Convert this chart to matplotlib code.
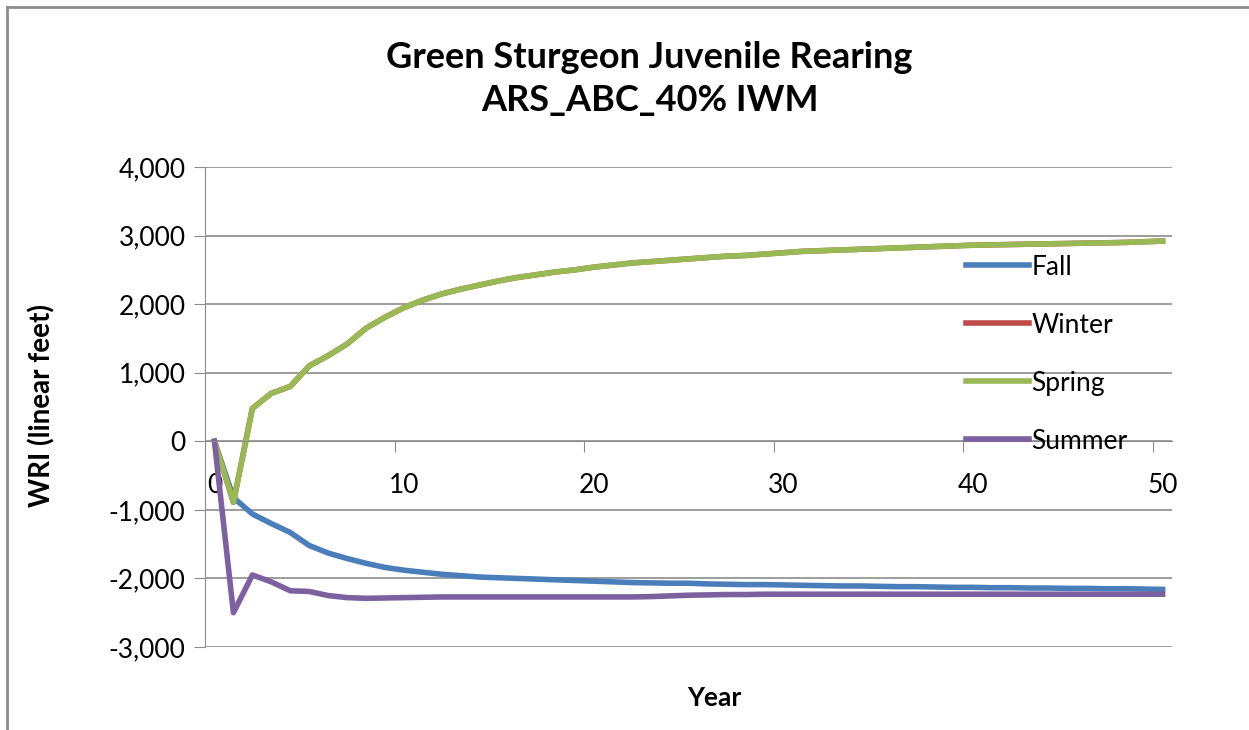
import matplotlib.pyplot as plt
import numpy as np
from matplotlib.lines import Line2D

plt.rcParams['font.family'] = ['Lato', 'DejaVu Sans']

# Data
years = list(range(0, 51))
fall = [0, -820, -1060, -1200, -1330, -1520, -1630, -1710, -1780, -1840,
        -1880, -1910, -1940, -1960, -1980, -1990, -2000, -2010, -2020, -2030,
        -2040, -2050, -2060, -2065, -2070, -2070, -2080, -2085, -2090, -2090,
        -2095, -2100, -2105, -2110, -2110, -2115, -2120, -2120, -2125, -2130,
        -2130, -2135, -2135, -2140, -2140, -2145, -2145, -2150, -2150, -2155,
        -2160]
spring = [0, -890, 480, 700, 800, 1100, 1250, 1420, 1650, 1810,
          1950, 2060, 2150, 2220, 2280, 2340, 2390, 2430, 2470, 2500,
          2540, 2570, 2600, 2620, 2640, 2660, 2680, 2700, 2710, 2730,
          2750, 2770, 2780, 2790, 2800, 2810, 2820, 2830, 2840, 2850,
          2860, 2865, 2870, 2875, 2880, 2885, 2890, 2895, 2900, 2910,
          2920]
winter = list(spring)  # hidden beneath the Spring line
summer = [0, -2500, -1950, -2050, -2180, -2190, -2250, -2280, -2290, -2285,
          -2280, -2275, -2270, -2270, -2270, -2270, -2270, -2270, -2270, -2270,
          -2270, -2270, -2270, -2265, -2255, -2245, -2240, -2235, -2235, -2230,
          -2230, -2230, -2230, -2230, -2230, -2230, -2230, -2230, -2230, -2230,
          -2230, -2230, -2230, -2230, -2230, -2230, -2230, -2230, -2230, -2230,
          -2230]

series = [("Fall", fall, "#4A7EBB"), ("Winter", winter, "#BE4B48"),
          ("Spring", spring, "#98B954"), ("Summer", summer, "#7D60A0")]

fig = plt.figure(figsize=(12.49, 7.30), dpi=100)
ax = fig.add_axes([0.1641, 0.1137, 0.7743, 0.6575])

for name, vals, col in series:
    ax.plot(years, vals, color=col, lw=4, label=name, solid_joinstyle='round')

ax.set_xlim(-0.5, 50.5)
ax.set_ylim(-3000, 4000)
ax.set_yticks(np.arange(-3000, 4001, 1000))
ax.set_yticklabels([f"{v:,}" for v in range(-3000, 4001, 1000)], fontsize=19)
ax.yaxis.grid(True, color='#8c8c8c', lw=1.2)
ax.set_axisbelow(True)

# x axis sits at y = 0, ticks between categories, labels at categories
for s in ['top', 'right']:
    ax.spines[s].set_visible(False)
ax.spines['bottom'].set_position(('data', 0))
ax.spines['bottom'].set_color('#8c8c8c')
ax.spines['left'].set_color('#8c8c8c')
ax.set_xticks(np.arange(9.5, 50, 10))
ax.set_xticks(np.arange(0, 51, 10), minor=True)
ax.set_xticklabels([], minor=False)
ax.set_xticklabels([str(v) for v in range(0, 51, 10)], minor=True, fontsize=19)
ax.tick_params(axis='x', which='major', direction='out', length=8, color='#8c8c8c')
ax.tick_params(axis='x', which='minor', length=0, pad=23)
ax.tick_params(axis='y', direction='out', length=8, color='#8c8c8c', pad=6)

fig.text(0.0336, 0.445, "WRI (linear feet)", rotation=90, ha='center', va='center',
         fontsize=20, fontweight='bold')
fig.text(0.572, 0.044, "Year", ha='center', va='center', fontsize=19, fontweight='bold')
fig.text(0.52, 0.921, "Green Sturgeon Juvenile Rearing", ha='center', va='center',
         fontsize=26, fontweight='bold')
fig.text(0.52, 0.862, "ARS_ABC_40% IWM", ha='center', va='center',
         fontsize=26, fontweight='bold')

leg = ax.legend(loc='upper left', bbox_to_anchor=(0.762, 0.867), frameon=False,
                fontsize=19, handlelength=2.4, handletextpad=0.1, labelspacing=1.25)

# outer chart border (top and left visible)
fig.add_artist(Line2D([0.0056, 0.0056], [0, 0.9904], color='#8c8c8c', lw=2,
                      transform=fig.transFigure))
fig.add_artist(Line2D([0.0056, 1.0], [0.9904, 0.9904], color='#8c8c8c', lw=2,
                      transform=fig.transFigure))

fig.savefig("out.png", dpi=100)
